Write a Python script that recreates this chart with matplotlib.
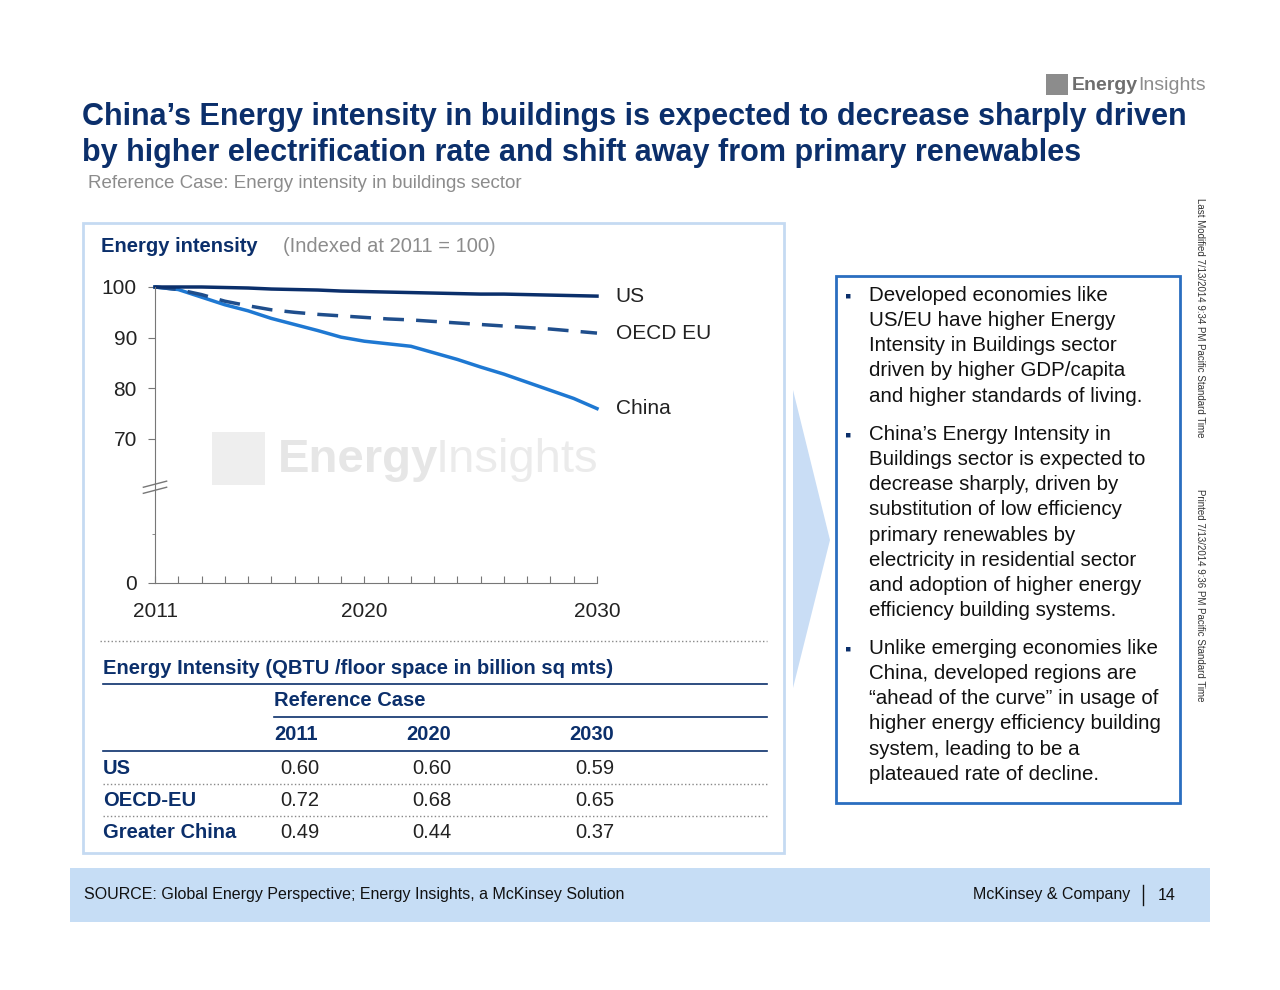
import matplotlib.pyplot as plt
import matplotlib
from matplotlib.patches import Rectangle, Polygon
from matplotlib.lines import Line2D

matplotlib.rcParams['font.family'] = ['Liberation Sans', 'DejaVu Sans']

W, H = 1280, 990
NAVY = '#0B2F6B'
BLUE = '#1E78D2'

years = list(range(2011, 2031))
us = [100, 100, 100, 99.9, 99.8, 99.6, 99.5, 99.4, 99.2, 99.1, 99.0, 98.9, 98.8, 98.7, 98.6, 98.6, 98.5, 98.4, 98.3, 98.2]
oecd_eu = [100, 99.5, 98.5, 97.2, 96.3, 95.5, 95.0, 94.6, 94.3, 94.0, 93.7, 93.5, 93.2, 92.9, 92.6, 92.3, 92.0, 91.7, 91.3, 90.9]
china = [100, 99.5, 98.0, 96.5, 95.3, 93.8, 92.6, 91.4, 90.1, 89.3, 88.8, 88.3, 87.0, 85.7, 84.2, 82.8, 81.2, 79.6, 78.0, 76.0]
series_names = ['US', 'OECD EU', 'China']

tbl_rows = ['US', 'OECD-EU', 'Greater China']
tbl_years = ['2011', '2020', '2030']
tbl_vals = [[0.60, 0.60, 0.59], [0.72, 0.68, 0.65], [0.49, 0.44, 0.37]]

bullets = [
    "Developed economies like\nUS/EU have higher Energy\nIntensity in Buildings sector\ndriven by higher GDP/capita\nand higher standards of living.",
    "China\u2019s Energy Intensity in\nBuildings sector is expected to\ndecrease sharply, driven by\nsubstitution of low efficiency\nprimary renewables by\nelectricity in residential sector\nand adoption of higher energy\nefficiency building systems.",
    "Unlike emerging economies like\nChina, developed regions are\n\u201cahead of the curve\u201d in usage of\nhigher energy efficiency building\nsystem, leading to be a\nplateaued rate of decline.",
]

fig = plt.figure(figsize=(12.8, 9.9), dpi=100)


def fx(x):
    return x / W


def fy(y):
    return 1 - y / H


def txt(x, y, s, **kw):
    kw.setdefault('va', 'center')
    fig.text(fx(x), fy(y), s, **kw)


def hline(x0, x1, y, **kw):
    fig.add_artist(Line2D([fx(x0), fx(x1)], [fy(y), fy(y)], transform=fig.transFigure, **kw))


def rect(x0, y0, x1, y1, **kw):
    fig.add_artist(Rectangle((fx(x0), fy(y1)), fx(x1) - fx(x0), fy(y0) - fy(y1),
                             transform=fig.transFigure, **kw))


# header
txt(82, 117, "China\u2019s Energy intensity in buildings is expected to decrease sharply driven",
    fontsize=22, fontweight='bold', color=NAVY)
txt(82, 153, "by higher electrification rate and shift away from primary renewables",
    fontsize=22, fontweight='bold', color=NAVY)
txt(88, 183, "Reference Case: Energy intensity in buildings sector", fontsize=13.5, color='#8C8C8C')
rect(1046, 74, 1068, 95, facecolor='#8C8C8C', edgecolor='none')
txt(1072, 86, "Energy", fontsize=14, fontweight='bold', color='#6E6E6E')
txt(1138, 86, "Insights", fontsize=14, color='#8C8C8C')

# side notes
txt(1200, 318, "Last Modified 7/13/2014 9:34 PM Pacific Standard Time", fontsize=7, rotation=-90,
    ha='center', color='#333333')
txt(1200, 595, "Printed 7/13/2014 9:36 PM Pacific Standard Time", fontsize=7, rotation=-90,
    ha='center', color='#333333')

# left panel
rect(83, 223, 784, 853, facecolor='none', edgecolor='#C5DAF2', linewidth=2)
txt(101, 246, "Energy intensity", fontsize=14.5, fontweight='bold', color=NAVY)
txt(283, 246, "(Indexed at 2011 = 100)", fontsize=14.5, color='#8C8C8C')

# watermark
rect(212, 432, 265, 485, facecolor='#EEEEEE', edgecolor='none', zorder=0)
txt(278, 460, "Energy", fontsize=34, fontweight='bold', color='#E6E6E6', zorder=0)
txt(436, 460, "Insights", fontsize=34, color='#EBEBEB', zorder=0)

# chart: values >=70 linear, 0 placed below the break
Y0 = 70 - (583 - 439) / ((439 - 287) / 30)
ax = fig.add_axes([fx(155), fy(583), fx(597) - fx(155), fy(287) - fy(583)])
ax.set_xlim(2011, 2030)
ax.set_ylim(Y0, 100)
ax.plot(years, china, color=BLUE, lw=2.5, clip_on=False)
ax.plot(years, oecd_eu, color='#1F4E8C', lw=2.5, ls=(0, (6, 3.5)), clip_on=False)
ax.plot(years, us, color=NAVY, lw=2.5, clip_on=False)
for name, s in zip(series_names, [us, oecd_eu, china]):
    ax.text(2030.8, s[-1], name, fontsize=15, va='center', color='#222222')
ax.set_yticks([Y0, 70, 80, 90, 100])
ax.set_yticklabels(['0', '70', '80', '90', '100'])
ax.set_yticks([Y0 + 9.7], minor=True)
ax.set_xticks(years)
ax.set_xticklabels([str(y) if y in (2011, 2020, 2030) else '' for y in years])
ax.tick_params(labelsize=15, colors='#222222', length=5, pad=8)
ax.tick_params(axis='x', direction='in', color='#777777', pad=14)
ax.tick_params(axis='y', color='#777777', which='both')
for sp in ['top', 'right']:
    ax.spines[sp].set_visible(False)
for sp in ['left', 'bottom']:
    ax.spines[sp].set_color('#777777')
yb = Y0 + 18.3
for d in (0, 1.2):
    ax.plot([2010.5, 2011.5], [yb + d - 0.6, yb + d + 0.6], color='#777777', lw=1, clip_on=False)
ax.patch.set_alpha(0)

# table
hline(100, 767, 641, color='#888888', lw=1, ls=':')
txt(103, 668, "Energy Intensity (QBTU /floor space in billion sq mts)", fontsize=14.5,
    fontweight='bold', color=NAVY)
hline(103, 767, 684, color=NAVY, lw=1.2)
txt(274, 701, "Reference Case", fontsize=14.5, fontweight='bold', color=NAVY)
hline(274, 767, 717, color=NAVY, lw=1.2)
col_x = [274, 406, 569]
for x, yr in zip(col_x, tbl_years):
    txt(x, 735, yr, fontsize=14.5, fontweight='bold', color=NAVY)
hline(103, 767, 751, color=NAVY, lw=1.2)
for i, (r, vals) in enumerate(zip(tbl_rows, tbl_vals)):
    y = 768 + 32 * i
    txt(103, y, r, fontsize=14.5, fontweight='bold', color=NAVY)
    for x, v in zip(col_x, vals):
        txt(x + 6, y, f"{v:.2f}", fontsize=14.5, color='#222222')
    if i < 2:
        hline(103, 767, y + 16, color='#888888', lw=1, ls=':')

# chevron
fig.add_artist(Polygon([(fx(793), fy(390)), (fx(830), fy(540)), (fx(793), fy(688))],
                       closed=True, transform=fig.transFigure, facecolor='#C9DDF5',
                       edgecolor='none'))

# right box
rect(836, 276, 1180, 803, facecolor='none', edgecolor='#2A6EC0', linewidth=2)
ys = [298, 437, 651]
for y, b in zip(ys, bullets):
    txt(848, y - 1, "\u25aa", fontsize=13, ha='center', color=NAVY)
    fig.text(fx(869), fy(y - 12), b, fontsize=14.8, va='top', color='#111111', linespacing=1.41)

# footer
rect(70, 868, 1210, 922, facecolor='#C6DDF5', edgecolor='none')
txt(84, 895, "SOURCE: Global Energy Perspective; Energy Insights, a McKinsey Solution", fontsize=11.5,
    color='#111111')
txt(1130, 895, "McKinsey & Company", fontsize=11.5, ha='right', color='#111111')
fig.add_artist(Line2D([fx(1143), fx(1143)], [fy(885), fy(905)], transform=fig.transFigure,
                      color='#111111', lw=1))
txt(1158, 895, "14", fontsize=11.5, color='#111111')

fig.savefig('out.png', dpi=100)
